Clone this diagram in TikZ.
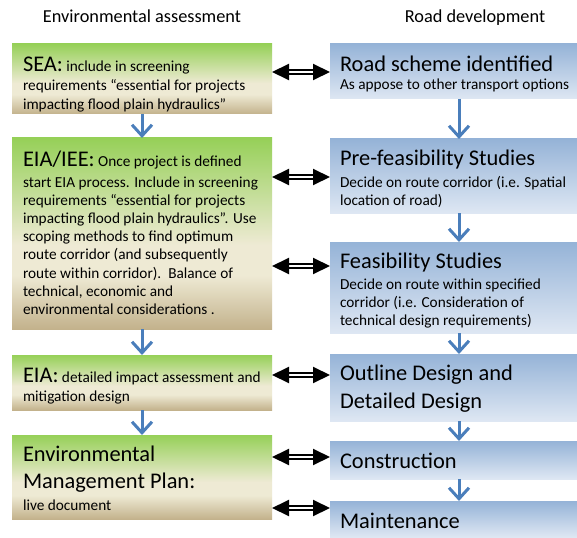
\documentclass[tikz,border=0pt]{standalone}
\usepackage{fontspec}
\setmainfont{Carlito}
\usetikzlibrary{arrows.meta,calc}
\definecolor{envgreen}{RGB}{150,208,88}
\definecolor{envpale}{RGB}{238,234,212}
\definecolor{envtan}{RGB}{195,178,140}
\definecolor{roadtop}{RGB}{149,179,215}
\definecolor{roadbot}{RGB}{222,231,243}
\definecolor{flowblue}{RGB}{74,126,187}
\pgfdeclareverticalshading{greenshade}{100bp}{color(0bp)=(envtan); color(25bp)=(envtan); color(39bp)=(envpale); color(47bp)=(envpale); color(75bp)=(envgreen); color(100bp)=(envgreen)}
\newcommand\bigtxt{\fontsize{22.4}{27}\selectfont}
\newcommand\firststrut{\rule{0pt}{20pt}}
\newcommand\smalltxt{\fontsize{15.3}{18.2}\selectfont\lineskiplimit=-100pt\relax\lineskip=0pt\relax}
\tikzset{
  greenbox/.style={shade, shading=greenshade, inner sep=0pt, outer sep=0pt, anchor=north west},
  bluebox/.style={shade, top color=roadtop, bottom color=roadbot, inner sep=0pt, outer sep=0pt, anchor=north west},
  txt/.style={anchor=north west, inner sep=0pt, outer sep=0pt, align=left, text=black,
    font=\smalltxt},
  header/.style={anchor=base, inner sep=0pt, font=\fontsize{18.3}{22}\selectfont},
  flowarrow/.style={draw=flowblue, line width=3pt, -{Straight Barb[length=11pt,width=20pt]}},
  linkarrow/.style={draw=black, line width=2pt, double=white, double distance=1.8pt,
    {Triangle[length=17pt,width=16pt]}-{Triangle[length=17pt,width=16pt]}}
}
\begin{document}
\begin{tikzpicture}[x=1pt,y=1pt]
\useasboundingbox (0,0) rectangle (577,-537);
\fill[white] (0,0) rectangle (577,-537);

% headers
\node[header] (hleft) at (142,-23) {Environmental assessment};
\node[header] (hright) at (475,-23) {Road development};

% left boxes
\node[greenbox, minimum width=260pt, minimum height=70pt] (sea) at (12,-44) {};
\node[greenbox, minimum width=260pt, minimum height=191pt] (eiaiee) at (12,-138) {};
\node[greenbox, minimum width=260pt, minimum height=55pt] (eia) at (12,-355) {};
\node[greenbox, minimum width=260pt, minimum height=84pt] (emp) at (12,-435) {};

% right boxes
\node[bluebox, minimum width=247pt, minimum height=55pt] (road) at (330,-44) {};
\node[bluebox, minimum width=247pt, minimum height=74pt] (pre) at (330,-139) {};
\node[bluebox, minimum width=247pt, minimum height=91pt] (feas) at (330,-242) {};
\node[bluebox, minimum width=247pt, minimum height=67pt] (outl) at (330,-354) {};
\node[bluebox, minimum width=247pt, minimum height=38pt] (cons) at (330,-441) {};
\node[bluebox, minimum width=247pt, minimum height=36pt] (maint) at (330,-501) {};

% left texts
\begin{scope}
\clip (12,-44) rectangle (272,-114);
\node[txt] (seatext) at (23,-52) {\firststrut{\bigtxt SEA:} include in screening\\[0.8pt]
requirements “essential for projects\\
impacting flood plain hydraulics”};
\end{scope}
\node[txt] (eiaieetext) at (23,-146) {\firststrut{\bigtxt EIA/IEE:} Once project is defined\\[2.8pt]
start EIA process. Include in screening\\
requirements “essential for projects\\
impacting flood plain hydraulics”. Use\\
scoping methods to find optimum\\
route corridor (and subsequently\\
route within corridor).\ \ Balance of\\
technical, economic and\\
environmental considerations .};
\node[txt] (eiatext) at (23,-362) {\firststrut{\bigtxt EIA:} detailed impact assessment and\\[0.8pt]
mitigation design};
\node[txt] (emptext) at (23,-441) {\firststrut{\bigtxt Environmental}\\[8.8pt]
{\bigtxt Management Plan:}\\[3.8pt]
live document};

% right texts
\node[txt] (roadtext) at (340,-52) {\firststrut{\bigtxt Road scheme identified}\\[-0.2pt]
As appose to other transport options};
\node[txt] (pretext) at (340,-146) {\firststrut{\bigtxt Pre-feasibility Studies}\\[2.8pt]
Decide on route corridor (i.e. Spatial\\
location of road)};
\node[txt] (feastext) at (340,-248) {\firststrut{\bigtxt Feasibility Studies}\\[2.8pt]
Decide on route within specified\\
corridor (i.e. Consideration of\\
technical design requirements)};
\node[txt] (outltext) at (340,-360) {\firststrut{\bigtxt Outline Design and}\\[9.8pt]
{\bigtxt Detailed Design}};
\node[txt] (constext) at (340,-448) {\firststrut{\bigtxt Construction}};
\node[txt] (mainttext) at (340,-508) {\firststrut{\bigtxt Maintenance}};

% flow arrows
\draw[flowarrow] (sea.south) -- (eiaiee.north);
\draw[flowarrow] (eiaiee.south) -- (eia.north);
\draw[flowarrow] (eia.south) -- (emp.north);
\draw[flowarrow] ([xshift=5.5pt]road.south) -- ([xshift=5.5pt]pre.north);
\draw[flowarrow] ([xshift=5.5pt]pre.south) -- ([xshift=5.5pt]feas.north);
\draw[flowarrow] ([xshift=5.5pt]feas.south) -- ([xshift=5.5pt]outl.north);
\draw[flowarrow] ([xshift=5.5pt]outl.south) -- ([xshift=5.5pt]cons.north);
\draw[flowarrow] ([xshift=5.5pt]cons.south) -- ([xshift=5.5pt]maint.north);

% link arrows
\coordinate (k1) at (0,-72);
\coordinate (k2) at (0,-177);
\coordinate (k3) at (0,-266);
\coordinate (k4) at (0,-375);
\coordinate (k5) at (0,-457);
\coordinate (k6) at (0,-508);
\draw[linkarrow] (sea.east |- k1) -- (road.west |- k1);
\draw[linkarrow] (eiaiee.east |- k2) -- (pre.west |- k2);
\draw[linkarrow] (eiaiee.east |- k3) -- (feas.west |- k3);
\draw[linkarrow] (eia.east |- k4) -- (outl.west |- k4);
\draw[linkarrow] (emp.east |- k5) -- (cons.west |- k5);
\draw[linkarrow] (emp.east |- k6) -- (maint.west |- k6);
\end{tikzpicture}
\end{document}
